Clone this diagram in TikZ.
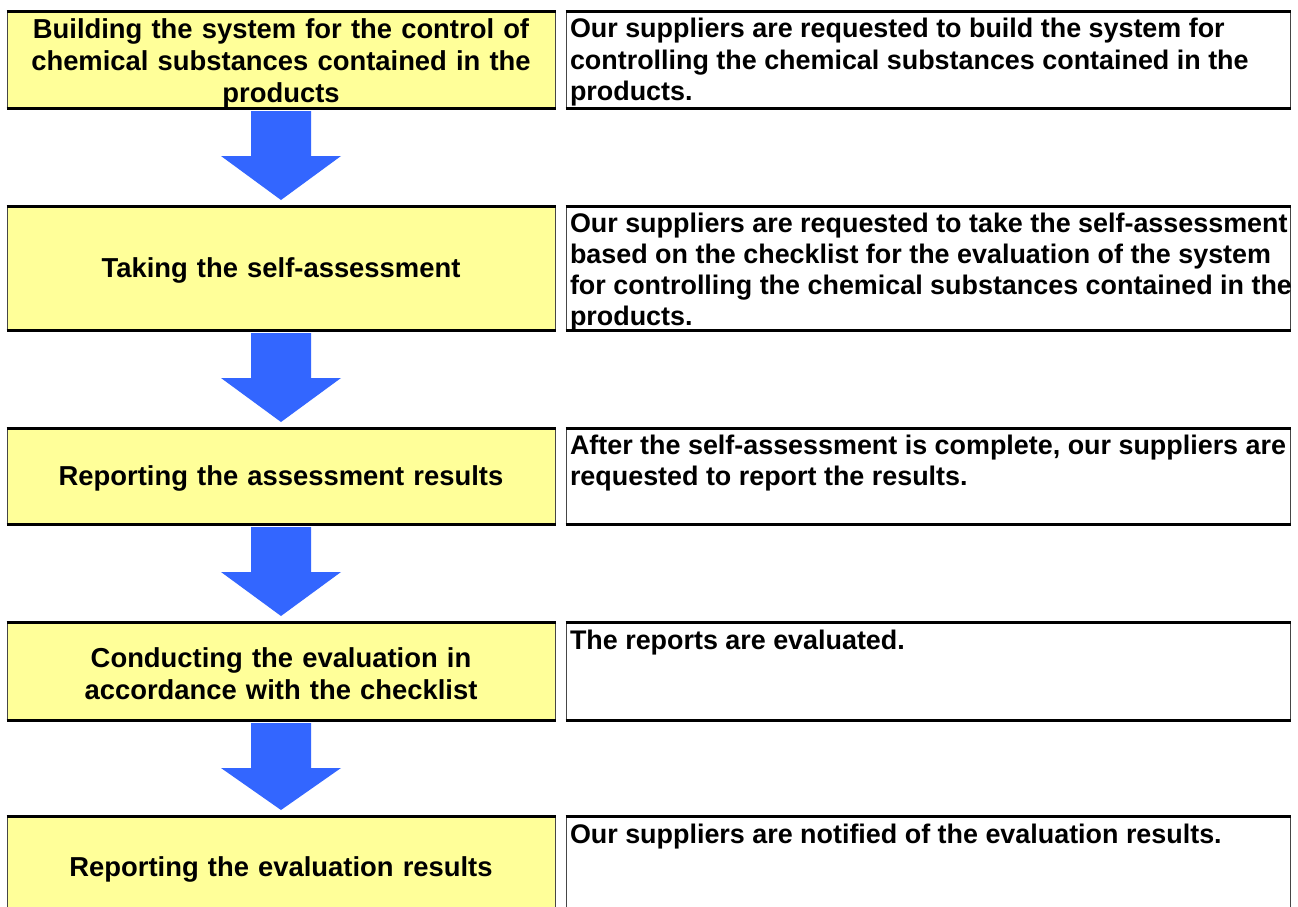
\documentclass[tikz,border=0pt]{standalone}
\usepackage{fontspec}
\setmainfont{Liberation Sans}
\usetikzlibrary{calc}
\definecolor{boxyellow}{RGB}{255,255,153}
\definecolor{arrowblue}{RGB}{51,102,255}
\definecolor{sidegray}{RGB}{70,70,70}
\tikzset{
  cell/.style={rectangle, draw=sidegray, line width=1pt, inner sep=0pt, outer sep=0pt, anchor=north west},
  lbox/.style={cell, fill=boxyellow, minimum width=548pt},
  ltext/.style={inner sep=0pt, outer sep=0pt, text width=540pt, align=center,
    font=\bfseries\fontsize{27.4}{32}\selectfont},
  rbox/.style={cell, fill=white, minimum width=724pt},
  rtext/.style={inner sep=0pt, outer sep=0pt, anchor=north west, align=left,
    font=\bfseries\fontsize{26.9}{31.2}\selectfont},
  edge/.style={line width=3pt, black},
  blockarrow/.style={fill=arrowblue, draw=none}
}
\newcommand\topbottom[1]{%
  \draw[edge] ([xshift=-0.5pt]#1.north west) -- ([xshift=0.5pt]#1.north east);
  \draw[edge] ([xshift=-0.5pt]#1.south west) -- ([xshift=0.5pt]#1.south east);}
\newcommand\flowarrow[2]{%
  \fill[blockarrow] ($(#1.south)+(-30pt,-3pt)$) -- ($(#1.south)+(30pt,-3pt)$)
    -- ($(#1.south)+(30pt,-48pt)$) -- ($(#1.south)+(60pt,-48pt)$)
    -- ($(#2.north)+(0pt,6pt)$) -- ($(#1.south)+(-60pt,-48pt)$)
    -- ($(#1.south)+(-30pt,-48pt)$) -- cycle;}
\begin{document}
\begin{tikzpicture}[x=1pt,y=-1pt]
\clip (0,0) rectangle (1298,906);
\fill[white] (0,0) rectangle (1298,906);

% row 1
\node[lbox, minimum height=97pt] (l1) at (7,11) {};
\node[ltext, yshift=-4pt] (s1) at (l1.center) {Building the system for the control of\\chemical substances contained in the\\products};
\node[rbox, minimum height=97pt] (r1) at (566,11) {};
\node[rtext] (t1) at (570,18.5) {Our suppliers are requested to build the system for\\controlling the chemical substances contained in the\\products.};

% row 2
\node[lbox, minimum height=124pt] (l2) at (7,206) {};
\node[ltext, yshift=-2pt] (s2) at (l2.center) {Taking the self-assessment};
\node[rbox, minimum height=124pt] (r2) at (566,206) {};
\node[rtext] (t2) at (570,212.5) {Our suppliers are requested to take the self-assessment\\based on the checklist for the evaluation of the system\\for controlling the chemical substances contained in the\\products.};

% row 3
\node[lbox, minimum height=96pt] (l3) at (7,428) {};
\node[ltext, yshift=-2pt] (s3) at (l3.center) {Reporting the assessment results};
\node[rbox, minimum height=96pt] (r3) at (566,428) {};
\node[rtext] (t3) at (570,435) {After the self-assessment is complete, our suppliers are\\requested to report the results.};

% row 4
\node[lbox, minimum height=98pt] (l4) at (7,622) {};
\node[ltext, yshift=-3pt] (s4) at (l4.center) {Conducting the evaluation in\\accordance with the checklist};
\node[rbox, minimum height=98pt] (r4) at (566,622) {};
\node[rtext] (t4) at (570,630) {The reports are evaluated.};

% row 5
\node[lbox, minimum height=102pt] (l5) at (7,816) {};
\node[ltext, yshift=-2pt] (s5) at (l5.center) {Reporting the evaluation results};
\node[rbox, minimum height=102pt] (r5) at (566,816) {};
\node[rtext] (t5) at (570,824) {Our suppliers are notified of the evaluation results.};

\foreach \n in {l1,r1,l2,r2,l3,r3,l4,r4,l5,r5} {\topbottom{\n}}

\flowarrow{l1}{l2}
\flowarrow{l2}{l3}
\flowarrow{l3}{l4}
\flowarrow{l4}{l5}
\end{tikzpicture}
\end{document}
